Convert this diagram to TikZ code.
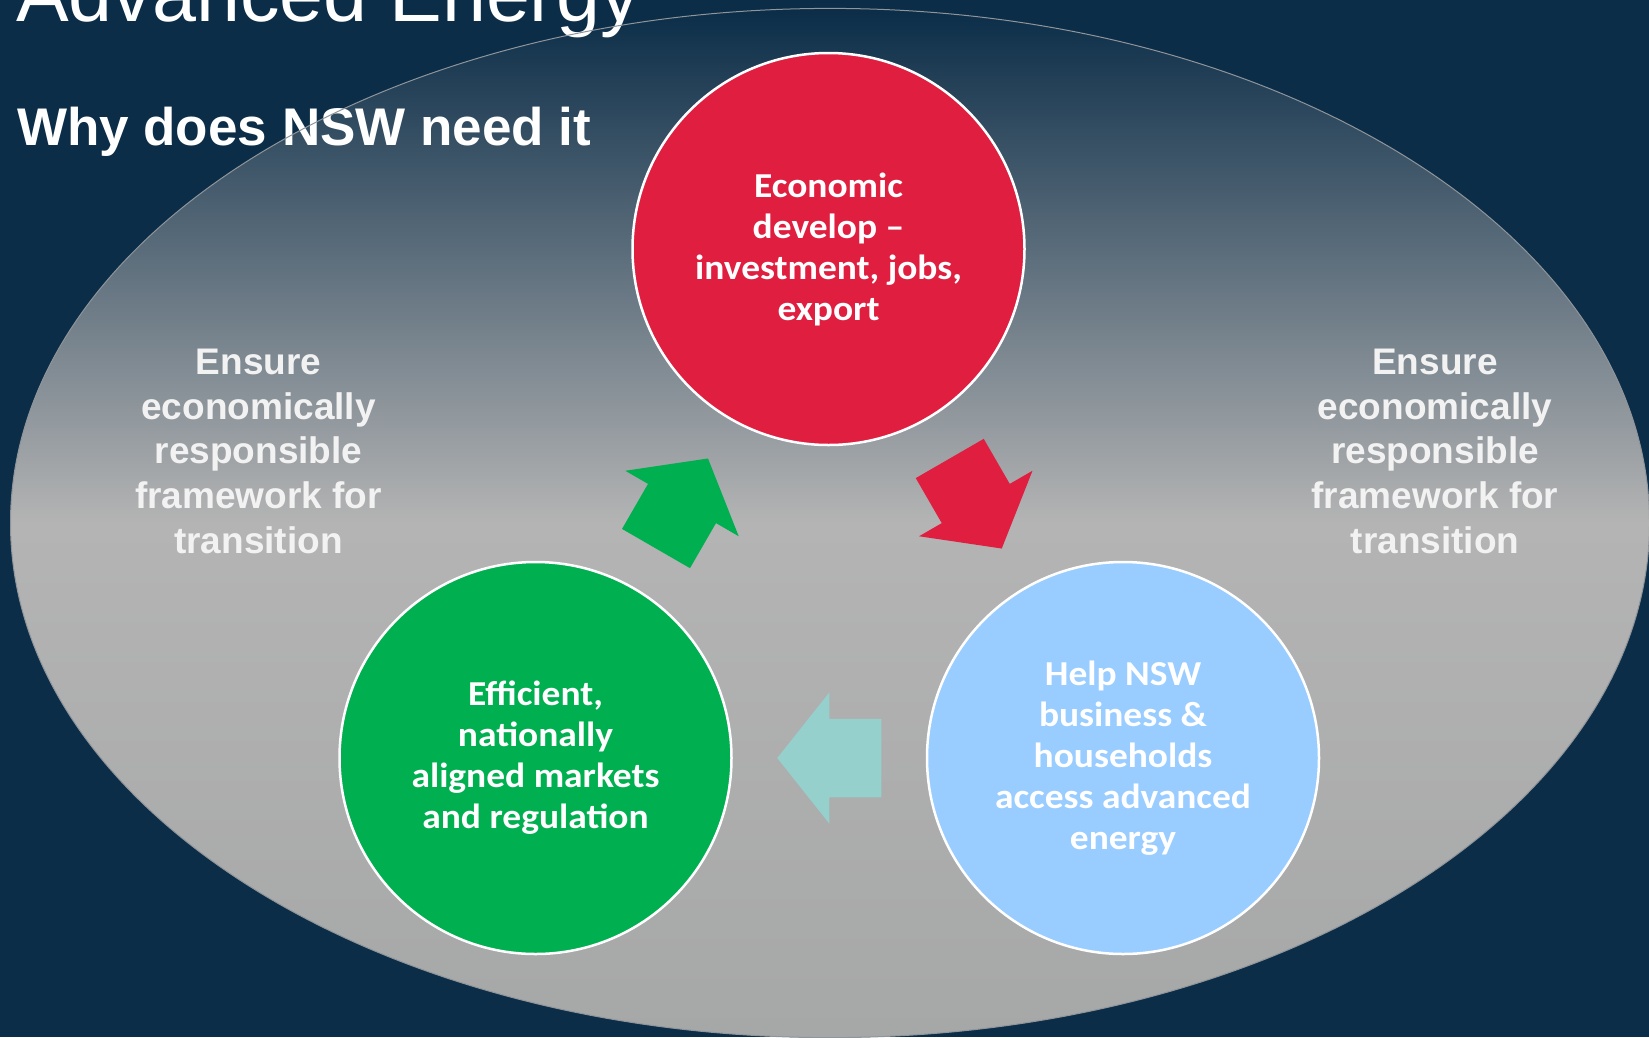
\documentclass[tikz,border=0pt]{standalone}
\usepackage{fontspec}
\setmainfont{Liberation Sans}
\newfontfamily\calibri[FakeStretch=1.07]{Carlito}
\usetikzlibrary{calc}

\definecolor{slidebg}{HTML}{0B2D48}
\definecolor{ovalgray}{HTML}{B4B4B4}
\definecolor{ovalbottom}{HTML}{A6A7A7}
\definecolor{ovalline}{HTML}{8F959A}
\definecolor{econred}{HTML}{E01E40}
\definecolor{effgreen}{HTML}{00B050}
\definecolor{helpblue}{HTML}{99CCFF}
\definecolor{backteal}{HTML}{95D0CC}
\definecolor{notegray}{HTML}{F2F2F2}

\begin{document}
\begin{tikzpicture}[x=1pt, y=-1pt,
    bubble/.style={circle, draw=white, line width=2.5pt, minimum size=392pt, inner sep=0pt,
        text=white, align=center, font=\calibri\bfseries\fontsize{35}{41}\selectfont},
    sidenote/.style={text=notegray, align=center, inner sep=0pt,
        font=\bfseries\fontsize{37}{44.8}\selectfont}]
        \useasboundingbox (0,0) rectangle (1649,1037);
        \fill[slidebg] (0,0) rectangle (1649,1037);

        % The oval
        \fill[top color=slidebg, bottom color=ovalbottom, middle color=ovalgray]
            (830,523) ellipse [x radius=819.5, y radius=514.6];

        % Headings
        \node[anchor=base west, inner sep=0pt, text=white, font=\fontsize{79}{80}\selectfont] (title) at (16,21.7) {Advanced Energy};
        \node[anchor=base west, inner sep=0pt, text=white, font=\bfseries\fontsize{53}{60}\selectfont] (subtitle) at (16.8,145.5) {Why does NSW need it};

        \draw[ovalline, line width=1pt] (830,523) ellipse [x radius=819.5, y radius=514.6];

        % Side notes
        \node[sidenote] (leftnote)  at (258.5,451.3) {Ensure\\economically\\responsible\\framework for\\transition};
        \node[sidenote] (rightnote) at (1435,451.3)  {Ensure\\economically\\responsible\\framework for\\transition};

        % Draw the circles
        \node[bubble, fill=econred]   (econ)      at (828.5,249) {Economic\\develop –\\investment, jobs,\\export};
        \node[bubble, fill=effgreen]  (efficient) at (535.5,758) {Efficient,\\nationally\\aligned markets\\and regulation};
        \node[bubble, fill=helpblue]  (help)      at (1123,758)  {Help NSW\\business \&\\households\\access advanced\\energy};

        % Connect the circles with block arrows
        \coordinate (econhelp) at ($(econ)!0.5!(help)$);
        \coordinate (helpeff)  at ($(help)!0.5!(efficient)$);
        \coordinate (effecon)  at ($(efficient)!0.5!(econ)$);

        \fill[econred, shift={(econhelp)}, rotate=-60]
            (-52,-39.25) -- (0,-39.25) -- (0,-65.5) -- (52,0) -- (0,65.5) -- (0,39.25) -- (-52,39.25) -- cycle;
        \fill[backteal, shift={(helpeff)}, rotate=180]
            (-52,-39.25) -- (0,-39.25) -- (0,-65.5) -- (52,0) -- (0,65.5) -- (0,39.25) -- (-52,39.25) -- cycle;
        \fill[effgreen, shift={(effecon)}, rotate=60]
            (-52,-39.25) -- (0,-39.25) -- (0,-65.5) -- (52,0) -- (0,65.5) -- (0,39.25) -- (-52,39.25) -- cycle;
\end{tikzpicture}
\end{document}
